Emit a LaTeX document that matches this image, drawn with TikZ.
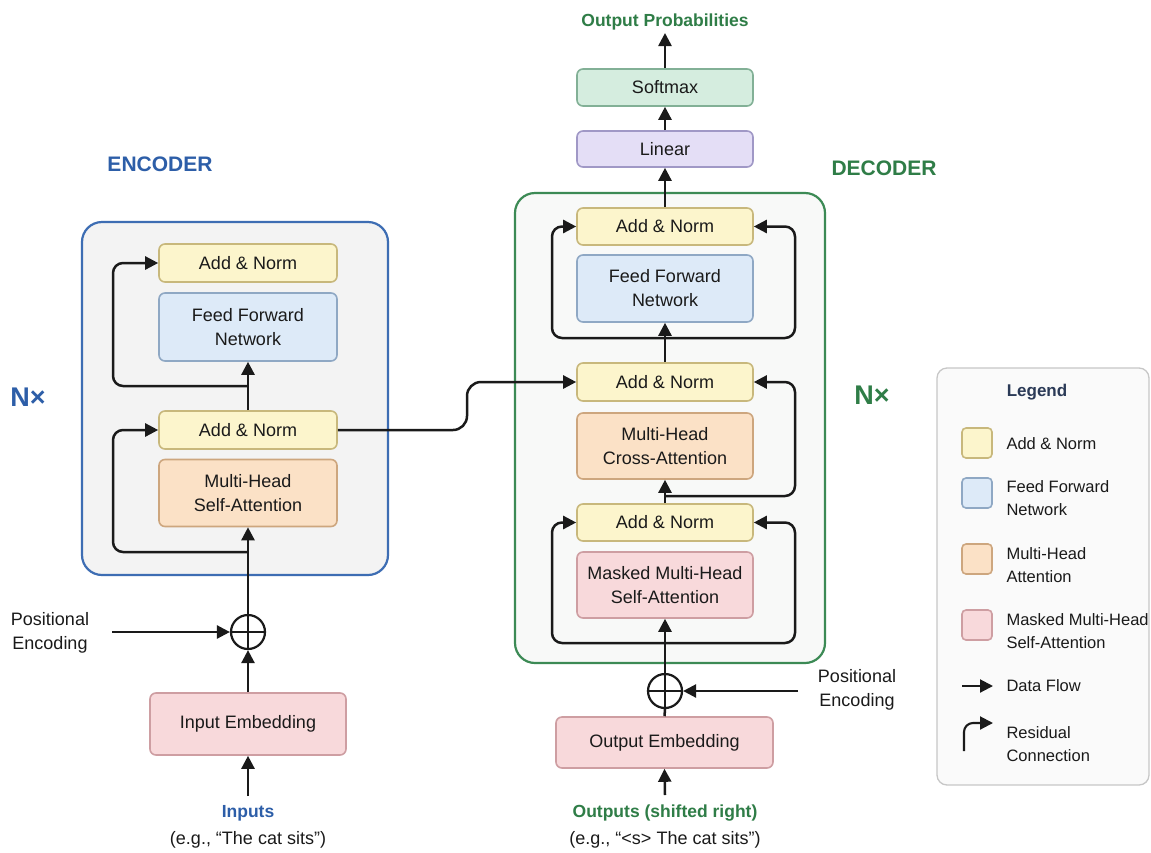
\documentclass[tikz,border=0pt]{standalone}
\usepackage{fontspec}
\setmainfont{Liberation Sans}
\usetikzlibrary{arrows.meta,calc}

\definecolor{anFill}{HTML}{FCF5CC}
\definecolor{anDraw}{HTML}{C8B87C}
\definecolor{ffFill}{HTML}{DDEAF8}
\definecolor{ffDraw}{HTML}{8FA8C4}
\definecolor{mhFill}{HTML}{FBE1C6}
\definecolor{mhDraw}{HTML}{CDA67E}
\definecolor{mkFill}{HTML}{F8D9DB}
\definecolor{mkDraw}{HTML}{CE9EA2}
\definecolor{smFill}{HTML}{D5EDDF}
\definecolor{smDraw}{HTML}{82B096}
\definecolor{lnFill}{HTML}{E4DEF6}
\definecolor{lnDraw}{HTML}{A098C6}
\definecolor{encBlue}{HTML}{3D6DB3}
\definecolor{encText}{HTML}{2D5EA8}
\definecolor{decGreen}{HTML}{3C8A55}
\definecolor{decText}{HTML}{2F7D47}
\definecolor{encFill}{HTML}{F3F3F3}
\definecolor{decFill}{HTML}{F8F9F8}
\definecolor{legTitle}{HTML}{2B3A57}
\definecolor{inkColor}{HTML}{1A1A1A}

\begin{document}
\begin{tikzpicture}[x=1pt,y=-1pt,
  every node/.style={font=\fontsize{18}{24}\selectfont, text=inkColor},
  blk/.style={draw, rounded corners=6pt, line width=1.6pt, align=center, inner sep=0pt},
  anbox/.style={blk, fill=anFill, draw=anDraw, minimum height=38pt},
  ffbox/.style={blk, fill=ffFill, draw=ffDraw, minimum height=68pt},
  mhbox/.style={blk, fill=mhFill, draw=mhDraw, minimum height=67pt},
  mkbox/.style={blk, fill=mkFill, draw=mkDraw},
  smbox/.style={blk, fill=smFill, draw=smDraw, minimum height=37pt},
  lnbox/.style={blk, fill=lnFill, draw=lnDraw, minimum height=36pt},
  encw/.style={minimum width=178pt},
  decw/.style={minimum width=176pt},
  container/.style={rounded corners=20pt, line width=2.2pt, inner sep=0pt},
  plus/.style={circle, draw=inkColor, line width=2.2pt, minimum size=34pt, inner sep=0pt},
  arr/.style={draw=inkColor, line width=2.5pt, -{Triangle[length=13pt,width=13pt]}},
  plain/.style={draw=inkColor, line width=2.5pt},
  res/.style={arr, rounded corners=10pt},
  lbl/.style={font=\bfseries\fontsize{17.5}{20}\selectfont},
  title/.style={font=\bfseries\fontsize{21}{24}\selectfont},
  repeat/.style={font=\bfseries\fontsize{27}{30}\selectfont},
  swatch/.style={draw, rounded corners=4pt, line width=1.6pt, minimum width=30pt, minimum height=30pt, inner sep=0pt},
  legtext/.style={anchor=west, align=left, font=\fontsize{16.5}{23}\selectfont},
]
\useasboundingbox (0,0) rectangle (1151,852);
\fill[white] (0,0) rectangle (1151,852);

% ---------- containers ----------
\node[container, draw=encBlue, fill=encFill, minimum width=306pt, minimum height=353pt] (encBox) at (235,398.5) {};
\node[container, draw=decGreen, fill=decFill, minimum width=310pt, minimum height=470pt] (decBox) at (670,428) {};

% ---------- encoder ----------
\node[title, text=encText] (encTitle) at (160,164) {ENCODER};
\node[repeat, text=encText] (encN) at (28,397) {N×};

\node[anbox, encw] (encAN2) at (248,263) {Add \& Norm};
\node[ffbox, encw] (encFF) at (248,327) {Feed Forward\\Network};
\node[anbox, encw] (encAN1) at (248,430) {Add \& Norm};
\node[mhbox, encw] (encMHA) at (248,493) {Multi-Head\\Self-Attention};

\node[plus] (encPlus) at (248,632) {};
\node[mkbox, minimum width=196pt, minimum height=62pt] (inEmb) at (248,724) {Input Embedding};
\node[lbl, text=encText] (inLbl) at (248,813) {Inputs};
\node (inEx) at (248,840) {(e.g., “The cat sits”)};
\node[align=center] (encPE) at (50,633) {Positional\\Encoding};

\coordinate (inStart) at (248,796);
\coordinate (encPEStart) at (112,632);
\coordinate (encLane) at (113,0);
\coordinate (encRes1) at (248,552);
\coordinate (encRes2) at (248,386);

\draw[plain] (encPlus.north) -- (encPlus.south) (encPlus.west) -- (encPlus.east);
\draw[arr] (inStart) -- (inEmb.south);
\draw[arr] (inEmb.north) -- (encPlus.south);
\draw[arr] (encPEStart) -- (encPlus.west);
\draw[arr] (encPlus.north) -- (encMHA.south);
\draw[res] (encRes1) -| (encLane |- encAN1.west) -- (encAN1.west);
\draw[arr] (encAN1.north) -- (encFF.south);
\draw[res] (encRes2) -| (encLane |- encAN2.west) -- (encAN2.west);

% ---------- decoder ----------
\node[title, text=decText] (decTitle) at (884,168) {DECODER};
\node[repeat, text=decText] (decN) at (872,395) {N×};

\node[anbox, decw, minimum height=37pt] (decAN3) at (665,226.5) {Add \& Norm};
\node[ffbox, decw, minimum height=67pt] (decFF) at (665,288.5) {Feed Forward\\Network};
\node[anbox, decw] (decAN2) at (665,382) {Add \& Norm};
\node[mhbox, decw, minimum height=66pt] (decCA) at (665,446) {Multi-Head\\Cross-Attention};
\node[anbox, decw, minimum height=37pt] (decAN1) at (665,522.5) {Add \& Norm};
\node[mkbox, decw, minimum height=66pt] (decMM) at (665,585) {Masked Multi-Head\\Self-Attention};

\node[lnbox, decw] (linear) at (665,149) {Linear};
\node[smbox, decw] (softmax) at (665,87.5) {Softmax};
\node[lbl, text=decText] (outProb) at (665,22) {Output Probabilities};

\node[plus] (decPlus) at (665,691) {};
\node[mkbox, minimum width=217pt, minimum height=51pt] (outEmb) at (664.5,742.5) {Output Embedding};
\node[lbl, text=decText] (outLbl) at (665,813) {Outputs (shifted right)};
\node (outEx) at (665,840) {(e.g., “<s> The cat sits”)};
\node[align=center] (decPE) at (857,690) {Positional\\Encoding};

\coordinate (outStart) at (665,795);
\coordinate (probEnd) at (665,33);
\coordinate (decPEStart) at (798,691);
\coordinate (decLaneL) at (552,0);
\coordinate (decLaneR) at (795,0);
\coordinate (decRes1) at (665,643);
\coordinate (decRes2) at (665,496);
\coordinate (decRes3) at (665,338);

\draw[plain] (decPlus.north) -- (decPlus.south) (decPlus.west) -- (decPlus.east);
\draw[arr] (outStart) -- (outEmb.south);
\draw[plain] (outEmb.north) -- (decPlus.south);
\draw[arr] (decPEStart) -- (decPlus.east);
\draw[arr] (decPlus.north) -- (decMM.south);
\draw[res] (decRes1) -| (decLaneL |- decAN1.west) -- (decAN1.west);
\draw[res] (decRes1) -| (decLaneR |- decAN1.east) -- (decAN1.east);
\draw[arr] (decAN1.north) -- (decCA.south);
\draw[res] (decRes2) -| (decLaneR |- decAN2.east) -- (decAN2.east);
\draw[arr] (decAN2.north) -- (decFF.south);
\draw[res] (decRes3) -| (decLaneL |- decAN3.west) -- (decAN3.west);
\draw[res] (decRes3) -| (decLaneR |- decAN3.east) -- (decAN3.east);
\draw[arr] (decAN3.north) -- (linear.south);
\draw[arr] (linear.north) -- (softmax.south);
\draw[arr] (softmax.north) -- (probEnd);

% ---------- encoder output into cross-attention ----------
\coordinate (bridge) at (467,0);
\draw[arr, rounded corners=14pt] (encAN1.east) -- (bridge |- encAN1.east) -- (bridge |- decAN2.west) -- (decAN2.west);

% ---------- legend ----------
\node[draw=black!22, fill=white!98!black, line width=1.3pt, rounded corners=10pt, minimum width=212pt, minimum height=417pt, inner sep=0pt] (legBox) at (1043,576.5) {};
\node[font=\bfseries\fontsize{17}{20}\selectfont, text=legTitle] (legTitle) at (1037,392) {Legend};

\node[swatch, fill=anFill, draw=anDraw] (swAN) at (977,443) {};
\node[legtext] (txAN) at (1003,444) {Add \& Norm};
\node[swatch, fill=ffFill, draw=ffDraw] (swFF) at (977,493) {};
\node[legtext] (txFF) at (1003,498.5) {Feed Forward\\Network};
\node[swatch, fill=mhFill, draw=mhDraw] (swMH) at (977,559) {};
\node[legtext] (txMH) at (1003,565) {Multi-Head\\Attention};
\node[swatch, fill=mkFill, draw=mkDraw] (swMK) at (977,625) {};
\node[legtext] (txMK) at (1003,631.5) {Masked Multi-Head\\Self-Attention};

\coordinate (flowA) at (962,686);
\coordinate (flowB) at (993,686);
\draw[arr, line width=2.1pt] (flowA) -- (flowB);
\node[legtext] (txFlow) at (1003,686) {Data Flow};

\coordinate (resA) at (964,751);
\coordinate (resB) at (993,723);
\draw[arr, line width=2.1pt, rounded corners=9pt] (resA) |- (resB);
\node[legtext] (txRes) at (1003,744.5) {Residual\\Connection};
\end{tikzpicture}
\end{document}
